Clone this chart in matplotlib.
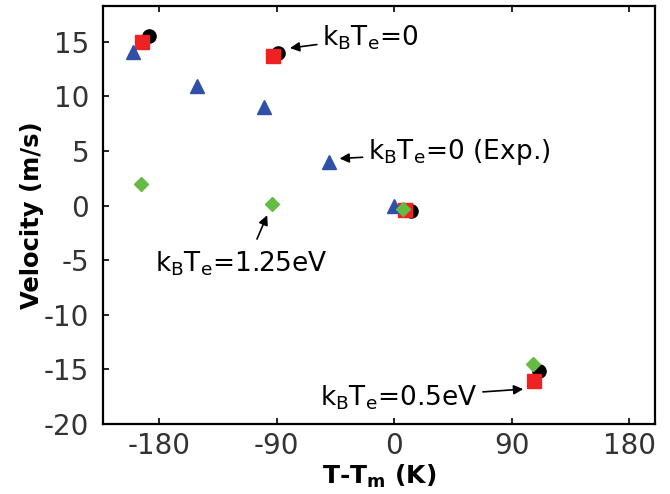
import matplotlib
matplotlib.use("Agg")
import matplotlib.pyplot as plt

plt.rcParams['axes.unicode_minus'] = False

# data
circ_x = [-188, -89, 13, 111]
circ_y = [15.5, 14.0, -0.5, -15.2]
sq_x = [-193, -93, 8, 107]
sq_y = [15.0, 13.7, -0.4, -16.1]
tri_x = [-200, -151, -100, -50, 0]
tri_y = [14.1, 11.0, 9.0, 4.0, 0.0]
dia_x = [-194, -94, 7, 106]
dia_y = [2.0, 0.1, -0.3, -14.5]

xticks = [-180, -90, 0, 90, 180]
yticks = [15, 10, 5, 0, -5, -10, -15, -20]

kb = r'k$_\mathregular{B}$T$_\mathregular{e}$'

fig = plt.figure(figsize=(6.7, 4.94), dpi=100)
ax = fig.add_axes([0.154, 0.142, 0.824, 0.845])

ax.plot(circ_x, circ_y, 'o', color='black', ms=9.5, ls='none')
ax.plot(sq_x, sq_y, 's', color='#ee2222', ms=10, ls='none')
ax.plot(tri_x, tri_y, '^', color='#3050a8', ms=10, ls='none')
ax.plot(dia_x, dia_y, 'D', color='#66bb44', ms=7.5, ls='none')

arr = dict(arrowstyle='-|>', color='black', lw=1.2, mutation_scale=14)
fs = 19
ax.annotate(kb + '=0', xy=(-82, 14.4), xytext=(-55, 15.4), fontsize=fs,
            ha='left', va='center', arrowprops=arr)
ax.annotate(kb + '=0 (Exp.)', xy=(-44, 4.3), xytext=(-20, 4.9), fontsize=fs,
            ha='left', va='center', arrowprops=arr)
ax.annotate('', xy=(-96.5, -0.65), xytext=(-106, -3.3), arrowprops=arr)
ax.text(-183, -5.3, kb + '=1.25eV', fontsize=fs, ha='left', va='center')
ax.annotate(kb + '=0.5eV', xy=(101, -16.8), xytext=(-57, -17.6), fontsize=fs,
            ha='left', va='center', arrowprops=arr)

ax.set_xlim(-223, 200)
ax.set_ylim(-20.0, 18.25)
ax.set_xticks(xticks)
ax.set_yticks(yticks)
ax.tick_params(direction='in', labelsize=20, width=1.2, length=4,
               top=True, right=False, colors='black', labelcolor='#333333')
ax.tick_params(axis='x', pad=6)
ax.tick_params(axis='y', pad=10)
for s in ax.spines.values():
    s.set_linewidth(1.6)

ax.set_xlabel(r'T-T$_\mathregular{m}$ (K)', fontsize=18, fontweight='bold',
              labelpad=2)
ax.set_ylabel('Velocity (m/s)', fontsize=17.5, fontweight='bold', labelpad=0)

fig.savefig('out.png', dpi=100)
